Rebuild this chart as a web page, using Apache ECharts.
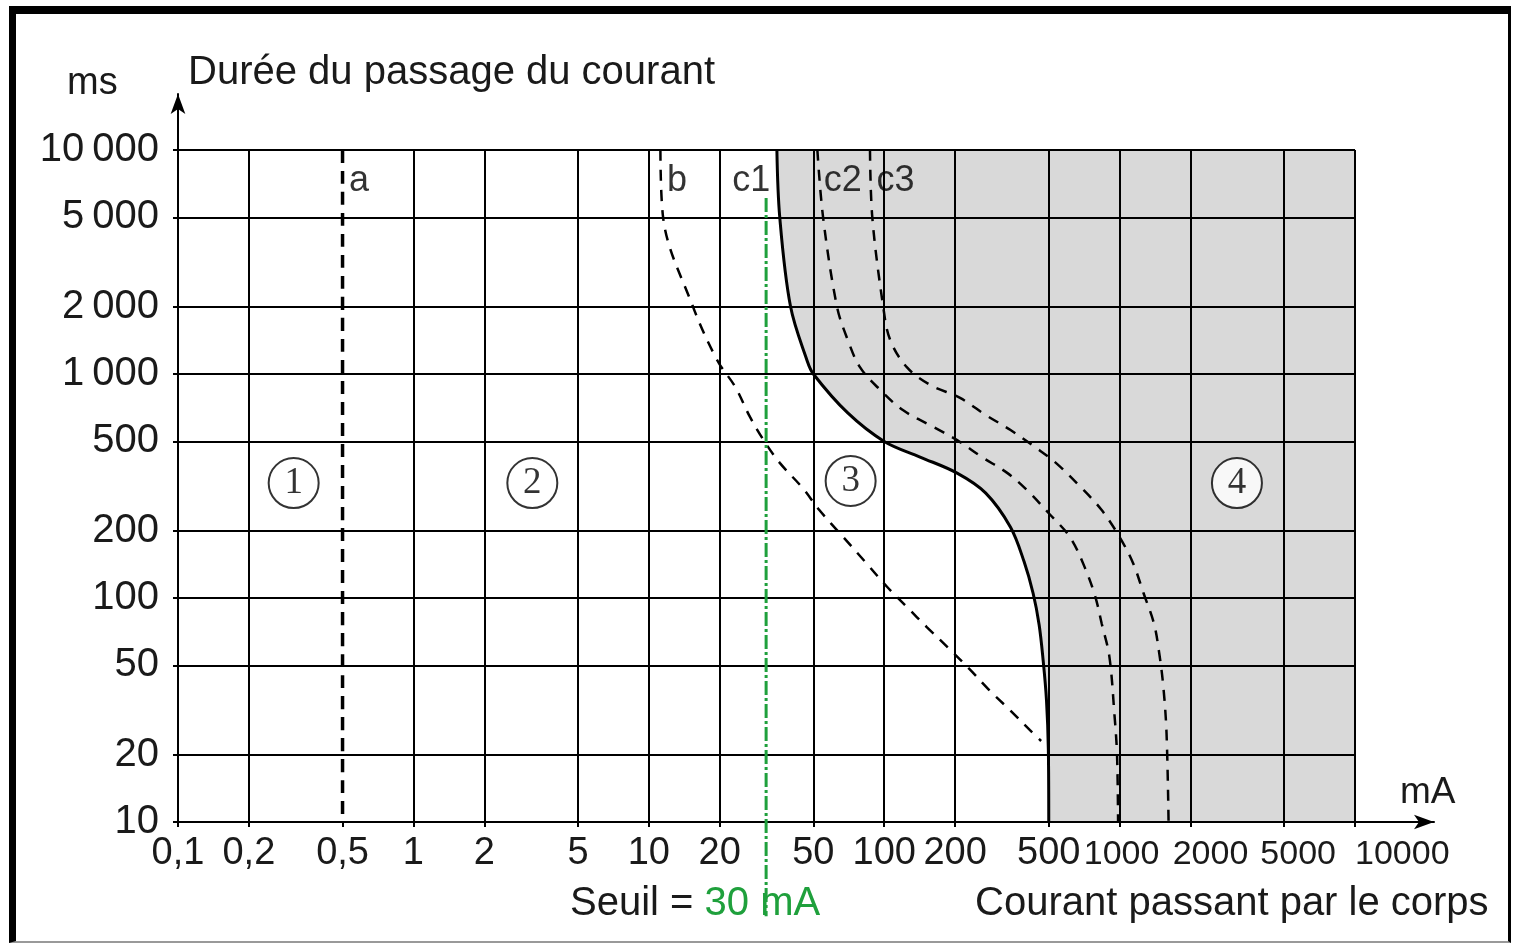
<!DOCTYPE html>
<html>
<head>
<meta charset="utf-8">
<script src="https://cdn.jsdelivr.net/npm/echarts@6/dist/echarts.min.js"></script>
<style>
  html, body { margin: 0; padding: 0; background: #fff; }
  #chart { position: absolute; left: 0; top: 0; width: 1513px; height: 944px; }
  #frame {
    position: absolute; left: 9px; top: 6px; width: 1502px; height: 937px; box-sizing: border-box;
    border-top: 8px solid #000; border-left: 7px solid #000; border-right: 3px solid #000;
    border-bottom: 2px solid #999; pointer-events: none;
  }
</style>
</head>
<body>
<div id="chart"></div>
<div id="frame"></div>
<script>
// axes (mA / ms, log scales)
const xTicks = [0.1, 0.2, 0.5, 1, 2, 5, 10, 20, 50, 100, 200, 500, 1000, 2000, 5000, 10000];
const xTickLabels = ['0,1', '0,2', '0,5', '1', '2', '5', '10', '20', '50', '100', '200', '500', '1000', '2000', '5000', '10000'];
const yTicks = [10, 20, 50, 100, 200, 500, 1000, 2000, 5000, 10000];
const yTickLabels = ['10', '20', '50', '100', '200', '500', '1\u2009000', '2\u2009000', '5\u2009000', '10\u2009000'];

// curves [current mA, duration ms]
const curveA = [[0.5, 10000], [0.5, 10]];
const curveB = [[11.2, 10000], [11.5, 5000], [15.4, 2000], [19.5, 1155], [23.3, 875], [26.9, 643], [31, 500],
  [36, 401], [45, 310], [53, 247], [67, 187], [84, 143], [103, 112], [125, 91], [152, 74], [190, 59],
  [231, 48], [278, 39], [342, 31.6], [416, 25.7], [464, 23]];
const curveC1 = [[35, 10000], [36, 5000], [40, 2000], [47, 1150], [50, 1000], [70, 670], [100, 500],
  [142, 426], [204, 361], [270, 294], [344, 207], [393, 145], [429, 105], [455, 76], [473, 53],
  [489, 35], [498, 21], [500, 10]];
const curveC2 = [[52, 10000], [55, 5000], [63, 2000], [70, 1420], [79, 1070], [96, 850], [120, 690],
  [157, 590], [204, 507], [260, 426], [334, 361], [404, 303], [500, 239], [615, 187], [711, 137],
  [789, 101], [839, 77], [904, 55], [951, 30], [975, 20], [985, 10]];
const curveC3 = [[87, 10000], [89, 5000], [99, 2000], [106, 1420], [125, 1070], [157, 893], [210, 782],
  [270, 656], [344, 562], [442, 468], [536, 401], [683, 313], [839, 247], [1000, 187], [1141, 143],
  [1264, 105], [1399, 77], [1472, 57], [1534, 40], [1582, 25], [1614, 10]];
const zone4Rect = [[500, 10], [10000, 10]];
const threshold = [[31.5, 6100], [31.5, 3.8]];

// annotations
const zones = [['1', 0.31, 326], ['2', 3.2, 326], ['3', 72, 333], ['4', 3150, 326]];
const labelTime = 7300;
const curveLabels = [['a', curveA, 'right'], ['b', curveB, 'right'], ['c1', curveC1, 'left'],
  ['c2', curveC2, 'right'], ['c3', curveC3, 'right']];

const SANS = '"Liberation Sans", Arial, sans-serif';
const GREEN = '#1fa03c';
const GRAY = '#d9d9d9';
const SMOOTH = 0.35;

function tickIndex(ticks, v) {
  return ticks.findIndex(t => Math.abs(Math.log10(t) - Math.log10(v)) < 1e-6);
}

// curve a stands in for the 0,5 grid line
const gridLines = xTicks.filter(x => x !== curveA[0][0])
  .map(x => [{ coord: [x, yTicks[0]] }, { coord: [x, yTicks[yTicks.length - 1]] }])
  .concat(yTicks.map(y => [{ coord: [xTicks[0], y] }, { coord: [xTicks[xTicks.length - 1], y] }]));

// crowded long labels: smaller type, nudged right like the original
const labelRich = {
  w: { fontFamily: SANS, fontSize: 38, color: '#1a1a1a' },
  n0: { fontFamily: SANS, fontSize: 34, color: '#1a1a1a', padding: [3, 0, 0, 4] },
  n1: { fontFamily: SANS, fontSize: 34, color: '#1a1a1a', padding: [3, 0, 0, 40] },
  n2: { fontFamily: SANS, fontSize: 34, color: '#1a1a1a', padding: [3, 0, 0, 28] },
  n3: { fontFamily: SANS, fontSize: 34, color: '#1a1a1a', padding: [3, 0, 0, 0] }
};

const chart = echarts.init(document.getElementById('chart'));

const curve = (data, width, dash) => ({
  type: 'line',
  data: data,
  showSymbol: false,
  silent: true,
  smooth: SMOOTH,
  z: 10,
  lineStyle: { color: '#000', width: width, type: dash }
});

chart.setOption({
  animation: false,
  backgroundColor: '#fff',
  grid: { left: 178, right: 79, top: 94, bottom: 122 },
  xAxis: {
    type: 'log',
    logBase: 10,
    min: 0.1,
    max: 21650,
    z: 6,
    axisLine: { symbol: ['none', 'arrow'], symbolSize: [11, 20], lineStyle: { color: '#000', width: 2 } },
    axisTick: { customValues: xTicks, length: 5, lineStyle: { color: '#000', width: 2 } },
    axisLabel: {
      customValues: xTicks,
      showMinLabel: true,
      showMaxLabel: true,
      alignMaxLabel: 'left',
      hideOverlap: false,
      margin: 13,
      color: '#1a1a1a',
      fontFamily: SANS,
      fontSize: 38,
      formatter: v => {
        const i = tickIndex(xTicks, v);
        const s = xTickLabels[i] || '';
        if (s.length < 4) return '{w|' + s + '}';
        return '{n' + (i - xTickLabels.indexOf('1000')) + '|' + s + '}';
      },
      rich: labelRich
    },
    splitLine: { show: false },
    minorTick: { show: false }
  },
  yAxis: {
    type: 'log',
    logBase: 10,
    min: 10,
    max: 17783,
    z: 6,
    axisLine: { symbol: ['none', 'arrow'], symbolSize: [11, 20], lineStyle: { color: '#000', width: 2 } },
    axisTick: { customValues: yTicks, length: 5, lineStyle: { color: '#000', width: 2 } },
    axisLabel: {
      customValues: yTicks,
      showMinLabel: true,
      showMaxLabel: true,
      margin: 19,
      color: '#1a1a1a',
      fontFamily: SANS,
      fontSize: 40,
      formatter: v => yTickLabels[tickIndex(yTicks, v)] || ''
    },
    splitLine: { show: false },
    minorTick: { show: false }
  },
  graphic: [
    { type: 'text', x: 67, y: 84, style: { text: 'ms', font: '38px ' + SANS, fill: '#1a1a1a', verticalAlign: 'middle' } },
    { type: 'text', x: 188, y: 73, style: { text: 'Durée du passage du courant', font: '40px ' + SANS, fill: '#1a1a1a', verticalAlign: 'middle' } },
    { type: 'text', x: 1400, y: 793, style: { text: 'mA', font: '37px ' + SANS, fill: '#1a1a1a', verticalAlign: 'middle' } },
    { type: 'text', x: 975, y: 904, style: { text: 'Courant passant par le corps', font: '40px ' + SANS, fill: '#1a1a1a', verticalAlign: 'middle' } },
    {
      type: 'text', x: 570, y: 904,
      style: {
        text: '{a|Seuil = }{g|30 mA}',
        font: '40px ' + SANS,
        verticalAlign: 'middle',
        rich: {
          a: { fill: '#1a1a1a', font: '40px ' + SANS },
          g: { fill: GREEN, font: '40px ' + SANS }
        }
      }
    }
  ],
  series: [
    {
      // zone 4 (right of c1)
      type: 'line', data: curveC1, showSymbol: false, silent: true, smooth: SMOOTH, z: 1,
      lineStyle: { opacity: 0 },
      areaStyle: { color: GRAY, opacity: 1, origin: 10000 }
    },
    {
      type: 'line', data: zone4Rect, showSymbol: false, silent: true, z: 1,
      lineStyle: { opacity: 0 },
      areaStyle: { color: GRAY, opacity: 1, origin: 10000 }
    },
    {
      type: 'line', data: [], silent: true, z: 5,
      markLine: {
        silent: true,
        symbol: ['none', 'none'],
        label: { show: false },
        lineStyle: { color: '#000', width: 2, type: 'solid' },
        emphasis: { disabled: true },
        data: gridLines
      }
    },
    curve(curveA, 3.5, [13, 8]),
    curve(curveB, 2.5, [11, 9]),
    curve(curveC1, 3, 'solid'),
    curve(curveC2, 2.5, [11, 9]),
    curve(curveC3, 2.5, [11, 9]),
    {
      type: 'line', data: threshold, showSymbol: false, silent: true, z: 11, clip: false,
      lineStyle: { color: GREEN, width: 3, type: [14, 3, 3, 3] }
    },
    {
      type: 'scatter', silent: true, z: 12,
      data: zones.map(z => ({ name: z[0], value: [z[1], z[2]] })),
      symbol: 'circle', symbolSize: 50,
      itemStyle: { color: '#fff', borderColor: '#000', borderWidth: 2 },
      label: { show: true, position: 'inside', formatter: '{b}', color: '#000', fontFamily: '"Liberation Serif", serif', fontSize: 37 }
    },
    {
      type: 'scatter', silent: true, z: 12,
      data: curveLabels.map(c => ({ name: c[0], value: [c[1][0][0], labelTime], label: { position: c[2] } })),
      symbol: 'circle', symbolSize: 1,
      itemStyle: { color: 'rgba(0,0,0,0)' },
      label: { show: true, formatter: '{b}', distance: 6, color: '#000', fontFamily: SANS, fontSize: 36 }
    }
  ]
});
</script>
</body>
</html>
